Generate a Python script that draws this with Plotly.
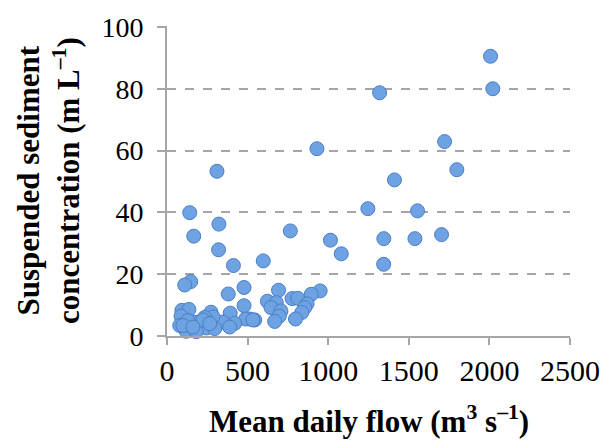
import plotly.graph_objects as go

# Mean daily flow (m3 s-1)
flow = [2007, 2021, 1319, 1722, 930, 1798, 310, 1411, 1246, 1554, 141, 322, 765, 1703,
        166, 1345, 1538, 1014, 320, 1081, 597, 1344, 412, 147, 110,
        380, 478, 692, 950, 895, 776, 811, 623, 678, 869, 645, 854, 836, 707, 696,
        668, 797, 478, 392, 513, 544, 488, 533, 420, 347, 389, 273, 192, 244, 285,
        234, 296, 120, 182, 92, 136, 87, 79, 110, 141, 161, 223, 265, 130, 99, 161]
# Suspended sediment concentration (m L-1)
ssc = [90.5, 80.0, 78.7, 62.9, 60.6, 53.8, 53.3, 50.5, 41.2, 40.5, 39.9, 36.2, 34.0, 32.8,
       32.3, 31.5, 31.5, 31.0, 27.9, 26.6, 24.3, 23.2, 22.8, 17.6, 16.5,
       13.6, 15.7, 14.8, 14.6, 13.5, 12.1, 12.2, 11.25, 10.8, 10.4, 9.2, 9.2, 7.6, 8.1, 6.4,
       4.7, 5.5, 9.8, 7.4, 5.5, 5.2, 5.5, 5.2, 4.1, 4.5, 2.9, 7.7, 4.5, 2.6, 6.2,
       6.0, 2.4, 1.5, 1.4, 8.3, 8.6, 6.4, 3.4, 4.0, 3.4, 4.5, 5.2, 4.0, 5.0, 3.4, 2.9]

x_ticks = [0, 500, 1000, 1500, 2000, 2500]
y_ticks = [0, 20, 40, 60, 80, 100]

FONT = "Liberation Serif, Times New Roman, serif"
GRAY = "#a6a6a6"

fig = go.Figure()
fig.add_trace(go.Scatter(
    x=flow, y=ssc, mode="markers", cliponaxis=False,
    marker=dict(size=14, color="#6fa2e2",
                line=dict(color="#4a7fc6", width=1)),
    showlegend=False, hoverinfo="x+y"))

fig.update_layout(
    width=613, height=441,
    margin=dict(l=167, r=43, t=15, b=105),
    paper_bgcolor="white", plot_bgcolor="white",
    font=dict(family=FONT, size=29, color="black"),
    xaxis=dict(range=[0, 2500], tickvals=x_ticks, showgrid=False, zeroline=False,
               showline=True, linecolor=GRAY, linewidth=2,
               ticks="outside", ticklen=7, tickwidth=2, tickcolor=GRAY,
               tickfont=dict(family=FONT, size=30, color="black")),
    yaxis=dict(range=[0, 100.3], tickvals=y_ticks, showgrid=True, gridcolor=GRAY,
               griddash="dash", gridwidth=1.6, zeroline=False,
               showline=True, linecolor=GRAY, linewidth=2,
               ticks="outside", ticklen=8, tickwidth=2, tickcolor=GRAY,
               ticklabelstandoff=8, ticklabeloverflow="allow",
               tickfont=dict(family=FONT, size=28, color="black")),
    annotations=[
        dict(text="<b>Mean daily flow (m<sup>3</sup> s<sup>–1</sup>)</b>",
             xref="paper", yref="paper", x=0.5, y=-0.268, xanchor="center", yanchor="middle",
             showarrow=False, font=dict(family=FONT, size=31, color="black")),
        dict(text="<b>Suspended sediment<br>concentration (m L<sup>–1</sup>)</b>",
             xref="paper", yref="paper", x=-0.295, y=0.5, xanchor="center", yanchor="middle",
             textangle=-90, showarrow=False,
             font=dict(family=FONT, size=31, color="black")),
    ],
)

fig.write_html("out.html", config={"displayModeBar": False},
               post_script="document.body.style.margin='0';")
